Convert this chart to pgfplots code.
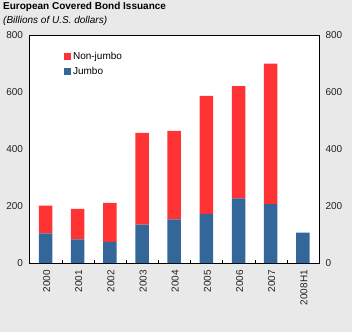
\documentclass[border=0pt]{standalone}
\usepackage{pgfplots}
\pgfplotsset{compat=1.18}
\usepackage{fontspec}
\setmainfont{Liberation Sans}
\definecolor{bg}{HTML}{E9E9E9}
\definecolor{nj}{HTML}{FF3333}
\definecolor{jb}{HTML}{336699}
\definecolor{lbl}{HTML}{222222}
\begin{document}
\begin{tikzpicture}
\useasboundingbox (0,0) rectangle (352pt,332pt);
\fill[bg] (0,0) rectangle (352pt,332pt);
\node[anchor=base west, font=\bfseries\fontsize{10}{12}\selectfont, inner sep=0pt] at (3pt,322pt) {European Covered Bond Issuance};
\node[anchor=base west, font=\itshape\fontsize{10}{12}\selectfont, inner sep=0pt] at (3pt,308pt) {(Billions of U.S. dollars)};
\begin{axis}[
  at={(29.5pt,69pt)}, anchor=south west,
  scale only axis, width=289.5pt, height=228pt,
  ybar stacked, bar width=13.5pt,
  xmin=-0.5, xmax=8.5, ymin=0, ymax=800,
  axis background/.style={fill=white},
  ytick={0,200,400,600,800},
  xtick={0,1,2,3,4,5,6,7,8},
  xticklabels={2000,2001,2002,2003,2004,2005,2006,2007,2008H1},
  major tick length=0pt,
  xtick pos=left, ytick pos=left,
  tick align=inside,
  extra x ticks={0.5,1.5,2.5,3.5,4.5,5.5,6.5,7.5},
  extra x tick labels={},
  extra x tick style={major tick length=3pt, tick style={black}},
  /pgf/number format/assume math mode=true,
  tick label style={font=\fontsize{10}{12}\selectfont, text=lbl},
  xticklabel style={rotate=90, anchor=east, inner sep=2pt, xshift=-5pt, yshift=-1pt},
  yticklabel style={xshift=-3pt},
  legend style={at={(0.117,0.934)}, anchor=north west, draw=none, fill=none,
    inner sep=0pt, row sep=2pt, font=\fontsize{10}{12}\selectfont,
    legend cell align=left},
  legend image code/.code={\fill[#1] (0pt,-3.75pt) rectangle (7.5pt,3.75pt);},
  reverse legend,
]
\addplot[fill=jb, draw=none] coordinates {(0,104) (1,83) (2,74) (3,135) (4,153) (5,172) (6,227) (7,207) (8,107)};
\addlegendentry{Jumbo}
\addplot[fill=nj, draw=none] coordinates {(0,97) (1,107) (2,137) (3,322) (4,311) (5,414) (6,394) (7,493) (8,0)};
\addlegendentry{Non-jumbo}
\end{axis}
\begin{axis}[
  at={(29.5pt,69pt)}, anchor=south west,
  scale only axis, width=289.5pt, height=228pt,
  xmin=-0.5, xmax=8.5, ymin=0, ymax=800,
  hide x axis, axis y line*=right, axis line style={draw=none},
  ytick={0,200,400,600,800},
  major tick length=0pt,
  /pgf/number format/assume math mode=true,
  tick label style={font=\fontsize{10}{12}\selectfont, text=lbl},
  yticklabel style={xshift=3pt},
]
\addplot[draw=none] coordinates {(0,0)};
\end{axis}
\end{tikzpicture}
\end{document}
